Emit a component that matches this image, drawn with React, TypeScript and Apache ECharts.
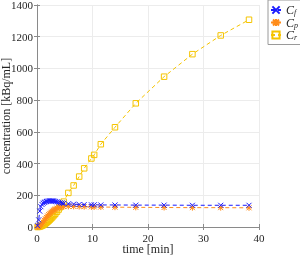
import React, { useEffect, useRef } from "react";
import * as echarts from "echarts";

const times = [0.1, 0.3, 0.5, 0.7, 0.9, 1.1, 1.3, 1.5, 1.7, 1.9, 2.1, 2.3, 2.5, 2.7, 2.9, 3.1, 3.3, 3.6, 3.9, 4.2, 4.5, 4.8, 5.65, 6.6, 7.6, 8.5, 9.8, 10.3, 11.5, 14.05, 17.8, 22.9, 28.0, 33.1, 38.2];
const cf = [8, 45, 100, 128, 142, 150, 155, 158, 161, 163, 164, 165, 165, 165, 164, 163, 161, 159, 156, 153, 151, 149, 146, 144, 142, 141, 140, 140, 139, 139, 138, 138, 137, 137, 137];
const cp = [0, 3, 8, 15, 23, 32, 42, 52, 61, 70, 78, 86, 93, 99, 105, 110, 114, 119, 123, 126, 128, 129, 130, 130, 129, 128, 127, 127, 126, 125, 124, 123, 122, 122, 121];
const cr = [0, 1, 3, 5, 8, 12, 16, 21, 27, 33, 39, 46, 53, 60, 68, 76, 84, 96, 110, 125, 140, 160, 215, 262, 318, 370, 432, 455, 522, 629, 780, 948, 1090, 1208, 1307];
const seriesNames = ["Cf", "Cp", "Cr"];
const subs = ["f", "p", "r"];
const xTicks = { min: 0, max: 40, interval: 10 };
const yTicks = { min: 0, max: 1400, interval: 200 };

const FONT = "Liberation Serif";

export default function App() {
  const ref = useRef<HTMLDivElement>(null);
  useEffect(() => {
    const chart = echarts.init(ref.current!, null, { renderer: "svg" });
    const pairs = (v: number[]) => times.map((t, i) => [t, v[i]]);
    const colors = ["#1a1aff", "#ff8c1a", "#f5c400"];
    const symbols = [
      "path://M0,0L10,10M10,0L0,10",
      "path://M0,0L10,10M10,0L0,10M5,-1L5,11M-1,5L11,5",
      "rect",
    ];
    const sizes = [5, 6, 5.5];
    const series: any[] = [cf, cp, cr].map((v, i) => ({
      name: seriesNames[i],
      type: "line",
      data: pairs(v),
      symbol: symbols[i],
      symbolSize: sizes[i],
      showAllSymbol: true,
      lineStyle: { color: colors[i], width: 1, type: [4, 3] },
      itemStyle: { color: "rgba(0,0,0,0)", borderColor: colors[i], borderWidth: 1 },
      z: 3 + (2 - i),
    }));
    const axisLine = { show: true, lineStyle: { color: "#8a8a8a", width: 1 } };
    const axisTick = { show: true, inside: true, length: 3, lineStyle: { color: "#8a8a8a" } };
    const label = { color: "#262626", fontFamily: FONT, fontSize: 11, formatter: (v: number) => String(v) };
    chart.setOption({
      animation: false,
      grid: { left: 37, right: 41, top: 5, bottom: 28, outerBoundsMode: "none", containLabel: false },
      legend: {
        orient: "vertical",
        left: 268,
        top: 0,
        padding: [4, 3, 3, 2],
        itemGap: 0,
        itemWidth: 10,
        itemHeight: 9,
        backgroundColor: "#fff",
        borderColor: "#9a9a9a",
        borderWidth: 1,
        borderRadius: 0,
        data: seriesNames,
        formatter: (n: string) => `{c|C}{s|${subs[seriesNames.indexOf(n)]}}`,
        textStyle: {
          rich: {
            c: { fontFamily: FONT, fontStyle: "italic", fontSize: 12, color: "#262626", lineHeight: 13 },
            s: { fontFamily: FONT, fontStyle: "italic", fontSize: 8, color: "#262626", padding: [5, 0, 0, 0] },
          },
        },
      },
      xAxis: [
        {
          type: "value",
          ...xTicks,
          name: "time [min]",
          nameLocation: "middle",
          nameGap: 16,
          nameMoveOverlap: false,
          nameTextStyle: { color: "#262626", fontFamily: FONT, fontSize: 12, lineHeight: 12 },
          axisLine,
          axisTick,
          axisLabel: { ...label, margin: 5 },
          splitLine: { show: true, lineStyle: { color: "#ececec", width: 1 } },
        },
        {
          type: "value",
          position: "top",
          ...xTicks,
          axisLine,
          axisTick,
          axisLabel: { show: false },
          splitLine: { show: false },
        },
      ],
      yAxis: [
        {
          type: "value",
          ...yTicks,
          name: "concentration [kBq/mL]",
          nameLocation: "middle",
          nameGap: 25,
          nameMoveOverlap: false,
          nameTextStyle: { color: "#262626", fontFamily: FONT, fontSize: 12, lineHeight: 12 },
          axisLine,
          axisTick,
          axisLabel: { ...label, margin: 4 },
          splitLine: { show: true, lineStyle: { color: "#ececec", width: 1 } },
        },
        {
          type: "value",
          position: "right",
          ...yTicks,
          axisLine,
          axisTick,
          axisLabel: { show: false },
          splitLine: { show: false },
        },
      ],
      series,
    });
    return () => chart.dispose();
  }, []);
  return <div ref={ref} style={{ position: "fixed", left: 0, top: 0, width: 300, height: 255 }} />;
}
